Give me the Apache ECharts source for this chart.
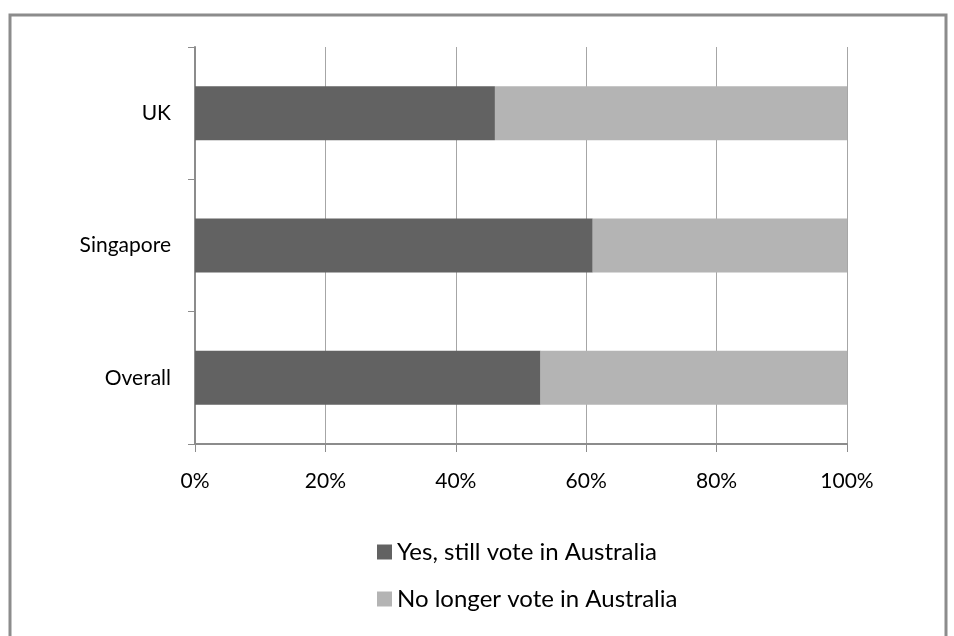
<!DOCTYPE html>
<html>
<head>
<meta charset="utf-8">
<script src="https://cdn.jsdelivr.net/npm/echarts@6/dist/echarts.min.js"></script>
<style>
html,body{margin:0;padding:0;background:#fff;}
#chart{width:954px;height:636px;}
</style>
</head>
<body>
<div id="chart"></div>
<script>
const categories = ['Overall', 'Singapore', 'UK'];
const seriesNames = ['Yes, still vote in Australia', 'No longer vote in Australia'];
const yesValues = [53, 61, 46];
const noValues = [47, 39, 54];
const tickLabels = ['0%', '20%', '40%', '60%', '80%', '100%'];

const chart = echarts.init(document.getElementById('chart'));
const font = 'Lato, "Open Sans", sans-serif';
chart.setOption({
  animation: false,
  backgroundColor: '#fff',
  graphic: [{
    type: 'rect',
    shape: {x: 10, y: 15, width: 936, height: 640},
    style: {fill: 'none', stroke: '#8c8c8c', lineWidth: 3},
    silent: true
  }],
  grid: {left: 195, right: 107, top: 47, bottom: 192},
  legend: {
    orient: 'vertical',
    left: 372,
    top: 535,
    itemWidth: 15,
    itemHeight: 15,
    itemGap: 23,
    icon: 'rect',
    textStyle: {fontFamily: font, fontSize: 24, color: '#000', padding: [0, 0, 0, 0]},
    data: seriesNames
  },
  xAxis: {
    type: 'value',
    min: 0, max: 100, interval: 20,
    axisLine: {show: true, lineStyle: {color: '#8c8c8c', width: 2}},
    axisTick: {show: true, length: 8, lineStyle: {color: '#8c8c8c', width: 1}},
    splitLine: {show: true, lineStyle: {color: '#a6a6a6', width: 1}},
    axisLabel: {
      margin: 27, fontFamily: font, fontSize: 21, color: '#000',
      formatter: function (v) { return tickLabels[Math.round(v / 20)]; }
    }
  },
  yAxis: {
    type: 'category',
    data: categories,
    axisLine: {show: true, lineStyle: {color: '#8c8c8c', width: 2}},
    axisTick: {show: true, length: 7, lineStyle: {color: '#8c8c8c', width: 1}},
    axisLabel: {margin: 24, fontFamily: font, fontSize: 21, color: '#000'}
  },
  series: [
    {name: seriesNames[0], type: 'bar', stack: 'a', data: yesValues, barWidth: 54,
     itemStyle: {color: '#626262'}},
    {name: seriesNames[1], type: 'bar', stack: 'a', data: noValues, barWidth: 54,
     itemStyle: {color: '#b4b4b4'}}
  ]
});
</script>
</body>
</html>
